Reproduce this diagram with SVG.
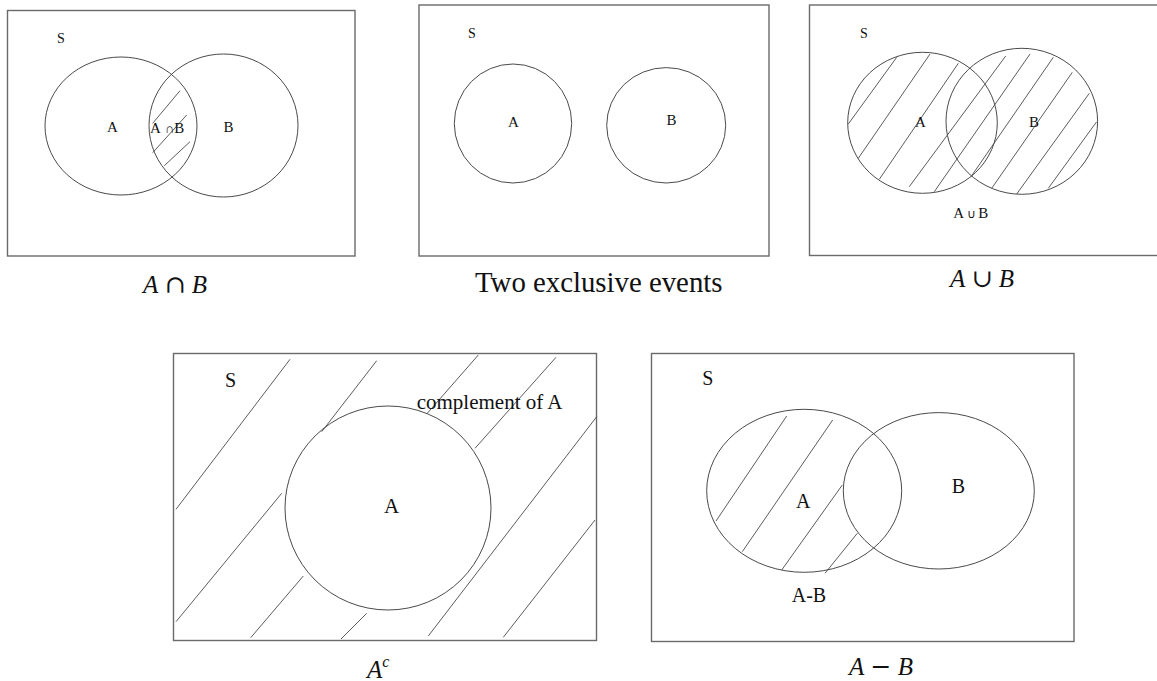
<svg xmlns="http://www.w3.org/2000/svg" width="1157" height="681" viewBox="0 0 1157 681">
<style>
  .frame { fill: none; stroke: #6a6a6a; stroke-width: 1.4; }
  .set { fill: none; stroke: #4a4a4a; stroke-width: 1; }
  .hatch { stroke: #4a4a4a; stroke-width: 0.9; fill: none; }
  .t { font-family: "Liberation Serif", "Times New Roman", serif; fill: #111; }
  .sm { font-size: 15px; }
  .s13 { font-size: 14px; }
  .md { font-size: 20px; }
  .cap { font-family: "Liberation Serif", "Times New Roman", serif; font-size: 25px; fill: #111; }
  .it { font-style: italic; }
  .sym { font-family: "DejaVu Serif", "Liberation Serif", serif; font-style: normal; }
</style>
<rect width="1157" height="681" fill="#fff"/>

<g id="panel-intersection">
  <rect class="frame" x="7.5" y="10.5" width="347.5" height="245.5"/>
  <ellipse class="set" cx="121" cy="126" rx="76" ry="69"/>
  <ellipse class="set" cx="223.5" cy="125.5" rx="74.5" ry="71.5"/>
  <g class="hatch">
    <line x1="152.7" y1="123.3" x2="180" y2="90.7"/>
    <line x1="152.7" y1="152.7" x2="186.7" y2="115"/>
    <line x1="164.3" y1="165.7" x2="190" y2="141.7"/>
  </g>
  <text class="t s13" x="57" y="43.3">S</text>
  <text class="t sm" x="107" y="131.7">A</text>
  <text class="t sm" x="223.5" y="131.7">B</text>
  <text class="t sm" x="150" y="133">A<tspan dx="4" font-size="13">∩</tspan>B</text>
  <text class="cap" x="175" y="293" text-anchor="middle"><tspan class="it">A</tspan> <tspan class="sym">∩</tspan> <tspan class="it">B</tspan></text>
</g>

<g id="panel-exclusive">
  <rect class="frame" x="419" y="5" width="350" height="251"/>
  <ellipse class="set" cx="513" cy="123.5" rx="58.7" ry="59.5"/>
  <ellipse class="set" cx="666.2" cy="125.3" rx="59.5" ry="57.7"/>
  <text class="t s13" x="468" y="38.3">S</text>
  <text class="t sm" x="508" y="127.3">A</text>
  <text class="t sm" x="666.5" y="125">B</text>
  <text class="t" font-size="28.8" x="475" y="291.7">Two exclusive events</text>
</g>

<g id="panel-union">
  <rect class="frame" x="809.5" y="5" width="360" height="250.5"/>
  <ellipse class="set" cx="922.5" cy="122.8" rx="74.8" ry="70.5"/>
  <ellipse class="set" cx="1021.8" cy="121.3" rx="75.8" ry="73"/>
  <g class="hatch">
    <line x1="848.3" y1="124" x2="896.7" y2="57.3"/>
    <line x1="858.3" y1="158.3" x2="930" y2="54"/>
    <line x1="879.3" y1="179.3" x2="958.3" y2="63.3"/>
    <line x1="909.3" y1="186.7" x2="1005.7" y2="56"/>
    <line x1="934.3" y1="191.7" x2="1030" y2="54"/>
    <line x1="971" y1="176.7" x2="1053.3" y2="57.3"/>
    <line x1="991.7" y1="188.3" x2="1072.3" y2="72.3"/>
    <line x1="1016.7" y1="194" x2="1089.3" y2="93.3"/>
    <line x1="1048.3" y1="188.3" x2="1096.7" y2="121.7"/>
  </g>
  <text class="t s13" x="860" y="38.3">S</text>
  <text class="t sm" x="915" y="127.3">A</text>
  <text class="t sm" x="1029" y="127.3">B</text>
  <text class="t sm" x="953.3" y="218">A<tspan dx="3" font-size="12">∪</tspan><tspan dx="2">B</tspan></text>
  <text class="cap" x="982" y="287.3" text-anchor="middle"><tspan class="it">A</tspan> <tspan class="sym">∪</tspan> <tspan class="it">B</tspan></text>
</g>

<g id="panel-complement">
  <rect class="frame" x="173.5" y="353.5" width="423" height="287"/>
  <g class="hatch">
    <line x1="176" y1="509.3" x2="290" y2="359.3"/>
    <line x1="176" y1="621.7" x2="281.7" y2="493.3"/>
    <line x1="250.7" y1="637.7" x2="303.3" y2="576"/>
    <line x1="321.7" y1="431.7" x2="376.7" y2="360.7"/>
    <line x1="341" y1="639" x2="366.7" y2="613.3"/>
    <line x1="426.7" y1="414" x2="478.3" y2="355"/>
    <line x1="475" y1="448.3" x2="556" y2="357.3"/>
    <line x1="428.3" y1="636" x2="596.7" y2="416.7"/>
    <line x1="503.3" y1="637.3" x2="595" y2="520"/>
  </g>
  <ellipse class="set" cx="388" cy="508" rx="103" ry="102" fill="#fff"/>
  <text class="t md" x="225" y="387.3">S</text>
  <text class="t" font-size="21" x="384" y="513.3">A</text>
  <text class="t" font-size="21" x="416.7" y="409">complement of A</text>
  <text class="cap" x="367" y="678"><tspan class="it">A</tspan><tspan class="it" font-size="16" dy="-11">c</tspan></text>
</g>

<g id="panel-difference">
  <rect class="frame" x="651.5" y="353.5" width="422.5" height="288"/>
  <ellipse class="set" cx="804.2" cy="490.8" rx="97.5" ry="81.5"/>
  <ellipse class="set" cx="938.8" cy="490.8" rx="95.5" ry="78.2"/>
  <g class="hatch">
    <line x1="716" y1="521" x2="786.7" y2="416"/>
    <line x1="742.3" y1="551.7" x2="832.7" y2="420"/>
    <line x1="781.7" y1="570" x2="842.3" y2="485"/>
    <line x1="825" y1="573.3" x2="857.3" y2="533.3"/>
  </g>
  <text class="t md" x="702.3" y="385">S</text>
  <text class="t md" x="796" y="508.3">A</text>
  <text class="t md" x="951.7" y="493.3">B</text>
  <text class="t md" x="791.7" y="602.3">A-B</text>
  <text class="cap" x="881" y="675" text-anchor="middle"><tspan class="it">A</tspan> <tspan class="sym">−</tspan> <tspan class="it">B</tspan></text>
</g>

<g id="connectors"/>
</svg>
